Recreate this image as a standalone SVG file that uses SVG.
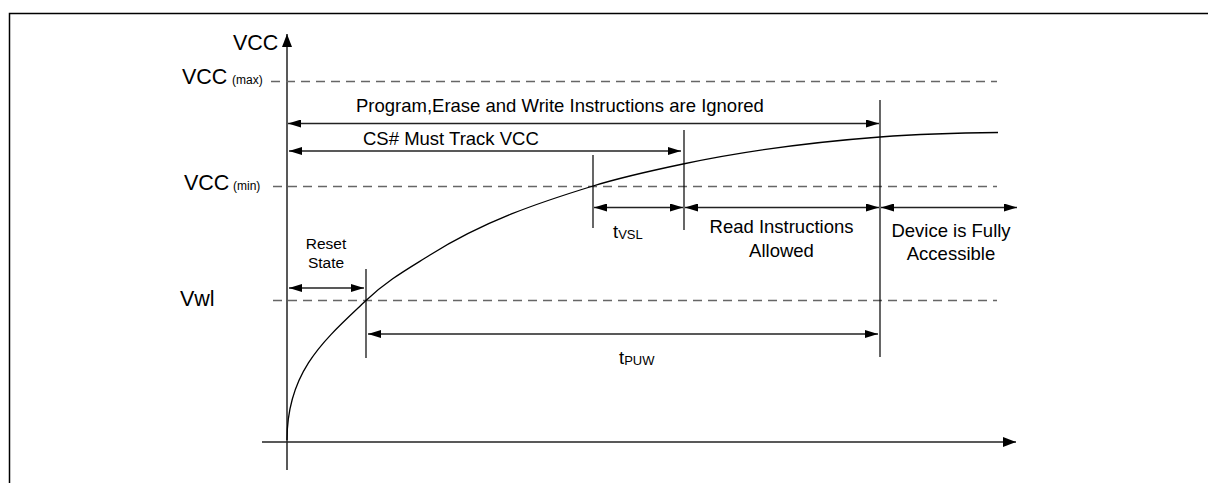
<svg xmlns="http://www.w3.org/2000/svg" width="1208" height="483" viewBox="0 0 1208 483">
<style>
  .t { font-family: "Liberation Sans", Arial, sans-serif; fill: #000; }
  .big { font-size: 21.5px; }
  .lbl { font-size: 18.5px; }
  .sm { font-size: 12px; }
  .rs { font-size: 15.5px; }
  .sub { font-size: 13px; }
  .dash { stroke: #666; stroke-width: 1.5; stroke-dasharray: 9 6; fill: none; }
  .arr { stroke: #222; stroke-width: 1.4; fill: none; marker-start: url(#ah); marker-end: url(#ah); }
  .tick { stroke: #000; stroke-width: 1.2; }
  .axis { stroke: #222; stroke-width: 1.5; fill: none; }
</style>
<defs>
  <marker id="ah" markerWidth="14" markerHeight="8" refX="13" refY="4" orient="auto-start-reverse" markerUnits="userSpaceOnUse">
    <path d="M0,0 L13,4 L0,8 z" fill="#000"/>
  </marker>
  <marker id="ax" markerWidth="14" markerHeight="10" refX="13" refY="5" orient="auto" markerUnits="userSpaceOnUse">
    <path d="M0,0 L13,5 L0,10 z" fill="#000"/>
  </marker>
</defs>
<rect width="1208" height="483" fill="#fff"/>
<!-- frame -->
<path d="M9.5,483 L9.5,13.5 L1208,13.5" stroke="#000" stroke-width="1.5" fill="none"/>

<g id="axes">
  <line x1="287" y1="470" x2="287" y2="34" class="axis" marker-end="url(#ax)"/>
  <line x1="262" y1="442" x2="1016" y2="442" class="axis" marker-end="url(#ax)"/>
  <text class="t big" x="233" y="50">VCC</text>
</g>

<g id="levels">
  <line class="dash" x1="271" y1="81.5" x2="997" y2="81.5"/>
  <line class="dash" x1="273" y1="186.5" x2="997" y2="186.5"/>
  <line class="dash" x1="273" y1="300.5" x2="997" y2="300.5"/>
  <text class="t big" x="182" y="84">VCC</text>
  <text class="t sm" x="232" y="84">(max)</text>
  <text class="t big" x="184" y="190">VCC</text>
  <text class="t sm" x="233" y="190">(min)</text>
  <text class="t big" x="180" y="306">Vwl</text>
</g>

<g id="curve">
  <path d="M287,440 C287,370 326,338.6 366,300.5 C387.33,280.17 408.67,268.44 430,255 C484.33,220.77 538.67,202.73 593,186 C623,176.76 653,170.3 683,164 C748.67,150.21 814.33,141.93 880,137 C919.33,134.05 958.67,132.9 998,132.5" stroke="#000" stroke-width="1.3" fill="none"/>
</g>

<g id="ticks">
  <line class="tick" x1="366" y1="269" x2="366" y2="358"/>
  <line class="tick" x1="593" y1="155" x2="593" y2="228"/>
  <line class="tick" x1="684" y1="130" x2="684" y2="230"/>
  <line class="tick" x1="880" y1="100" x2="880" y2="357"/>
</g>

<g id="connectors">
  <line class="arr" x1="288" y1="123.5" x2="879" y2="123.5"/>
  <line class="arr" x1="289" y1="151" x2="681" y2="151"/>
  <line class="arr" x1="289" y1="288" x2="364" y2="288"/>
  <line class="arr" x1="368" y1="334" x2="878" y2="334"/>
  <line class="arr" x1="594" y1="207.5" x2="683" y2="207.5"/>
  <line class="arr" x1="685" y1="207.5" x2="879" y2="207.5"/>
  <line class="arr" x1="881" y1="207.5" x2="1017" y2="207.5"/>
</g>

<g id="program">
  <text class="t lbl" x="356" y="112">Program,Erase and Write Instructions are Ignored</text>
</g>
<g id="cs">
  <text class="t lbl" x="363" y="145">CS# Must Track VCC</text>
</g>
<g id="reset">
  <text class="t rs" x="326" y="249" text-anchor="middle">Reset</text>
  <text class="t rs" x="326" y="268" text-anchor="middle">State</text>
</g>
<g id="tvsl">
  <text class="t lbl" x="613" y="238">t<tspan class="sub" dy="1">VSL</tspan></text>
</g>
<g id="read">
  <text class="t lbl" x="781.5" y="233" text-anchor="middle">Read Instructions</text>
  <text class="t lbl" x="781.5" y="256.5" text-anchor="middle">Allowed</text>
</g>
<g id="device">
  <text class="t lbl" x="951" y="237" text-anchor="middle">Device is Fully</text>
  <text class="t lbl" x="951" y="260" text-anchor="middle">Accessible</text>
</g>
<g id="tpuw">
  <text class="t lbl" x="619" y="364">t<tspan class="sub" dy="1">PUW</tspan></text>
</g>
</svg>
